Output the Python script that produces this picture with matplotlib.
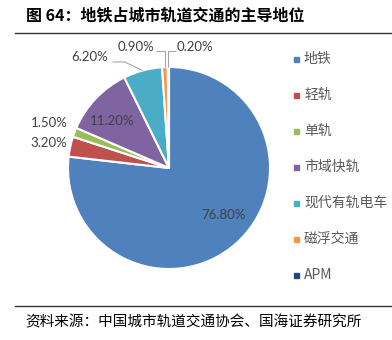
import numpy as np
import matplotlib.pyplot as plt
from matplotlib.patches import Rectangle

plt.rcParams['font.family'] = ['Noto Sans CJK SC', 'DejaVu Sans']

# share of urban rail transit lines by system type (%)
categories = ["地铁", "轻轨", "单轨", "市域快轨", "现代有轨电车", "磁浮交通", "APM"]
shares = [76.8, 3.2, 1.5, 11.2, 6.2, 0.9, 0.2]
colors = ["#4F81BD", "#C0504D", "#9BBB59", "#8064A2", "#4BACC6", "#F79646", "#1F497D"]

title = "图 64：地铁占城市轨道交通的主导地位"
source = "资料来源：中国城市轨道交通协会、国海证券研究所"

# label placement in pie units (radius = 1)
label_pos = [(0.54, -0.47), (-1.19, 0.25), (-1.19, 0.45), (-0.56, 0.47),
             (-0.79, 1.10), (-0.33, 1.20), (0.26, 1.20)]
# leader lines: (start, elbow) -> wedge edge
leaders = {4: ((-0.56, 1.05), (-0.44, 1.05)),
           5: ((-0.13, 1.16), None),
           6: ((0.07, 1.16), None)}

W, H = 392, 340
fig = plt.figure(figsize=(W / 100, H / 100), dpi=100)

cx, cy, r = 169, 168, 101
ax = fig.add_axes([(cx - r) / W, (H - cy - r) / H, 2 * r / W, 2 * r / H])
wedges, _ = ax.pie(shares, colors=colors, startangle=90, counterclock=False,
                   radius=1.0,
                   wedgeprops=dict(edgecolor="white", linewidth=1.5))
ax.set_xlim(-1, 1)
ax.set_ylim(-1, 1)
ax.set_aspect("equal")
ax.axis("off")

for i, (w, val) in enumerate(zip(wedges, shares)):
    lx, ly = label_pos[i]
    ax.text(lx, ly, f"{val:.2f}%", ha="center", va="center",
            fontsize=9.5, color="#404040", family=["Lato", "DejaVu Sans"],
            clip_on=False)
    if i in leaders:
        mid = np.deg2rad((w.theta1 + w.theta2) / 2)
        ex, ey = np.cos(mid), np.sin(mid)
        start, elbow = leaders[i]
        if elbow is None:
            elbow = (ex, start[1])
        xs = [start[0], elbow[0], ex]
        ys = [start[1], elbow[1], ey]
        ax.plot(xs, ys, color="#A6A6A6", lw=0.8, clip_on=False,
                solid_capstyle="butt")

# legend
for i, (name, c) in enumerate(zip(categories, colors)):
    y = 59 + 36 * i
    fig.patches.append(Rectangle((294 / W, (H - y - 2.5) / H), 5 / W, 5 / H,
                                 transform=fig.transFigure, color=c))
    fig.text(304 / W, (H - y) / H, name, ha="left", va="center",
             fontsize=10, color="#595959")

# title and source with rules
fig.text(26 / W, (H - 15) / H, title, ha="left", va="center",
         fontsize=11.5, fontweight="bold", color="black")
fig.add_artist(plt.Line2D([15 / W, 1], [(H - 33) / H] * 2,
                          transform=fig.transFigure, color="#333333", lw=1))
fig.add_artist(plt.Line2D([15 / W, 1], [(H - 306) / H] * 2,
                          transform=fig.transFigure, color="#333333", lw=1))
fig.text(25 / W, (H - 322) / H, source, ha="left", va="center",
         fontsize=10.5, color="black")

fig.savefig("out.png", dpi=100)
